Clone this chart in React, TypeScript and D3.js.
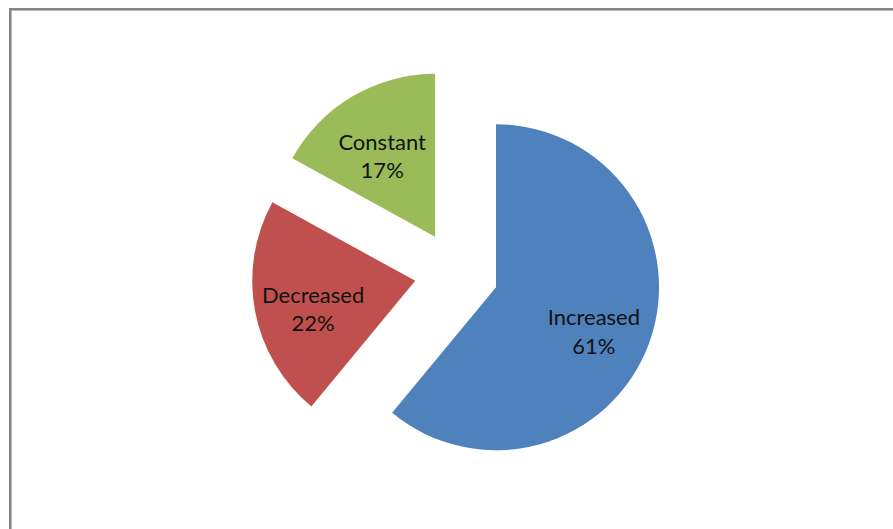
import React from "react";
import * as d3 from "d3";

const categories = ["Increased", "Decreased", "Constant"];
const values = [61, 22, 17];
const colors = ["#4F81BD", "#C0504D", "#9BBB59"];

const W = 893;
const H = 529;
const CX = 456.5;
const CY = 273;
const R = 163;
const EXPLODE = 42;
const LABEL_R = 104;

export default function App() {
  const pie = d3.pie<number>().sort(null).value((d) => d);
  const arcs = pie(values);
  const arc = d3.arc<d3.PieArcDatum<number>>().innerRadius(0).outerRadius(R);
  const labelArc = d3.arc<d3.PieArcDatum<number>>().innerRadius(LABEL_R).outerRadius(LABEL_R);
  const total = d3.sum(values);

  return (
    <svg width={W} height={H} style={{ position: "absolute", left: 0, top: 0, background: "#fff" }}>
      <rect x={0} y={0} width={W} height={H} fill="#fff" />
      <rect x={10} y={9} width={W + 20} height={H + 20} fill="none" stroke="#868686" strokeWidth={2} />
      <rect x={11.5} y={10.5} width={W + 20} height={H + 20} fill="none" stroke="#b8b8b8" strokeWidth={1} />
      <g transform={`translate(${CX},${CY})`}>
        {arcs.map((a, i) => {
          const mid = (a.startAngle + a.endAngle) / 2;
          const dx = Math.sin(mid) * EXPLODE;
          const dy = -Math.cos(mid) * EXPLODE;
          const [lx, ly] = labelArc.centroid(a);
          const pct = Math.round((values[i] / total) * 100);
          return (
            <g key={categories[i]} transform={`translate(${dx},${dy})`}>
              <path d={arc(a) || ""} fill={colors[i]} />
              <text
                x={lx}
                y={ly}
                textAnchor="middle"
                fontFamily="Lato, 'Open Sans', sans-serif"
                fontSize={22}
                fill="#111"
              >
                <tspan x={lx} dy={2.7}>{categories[i]}</tspan>
                <tspan x={lx} dy={28.4}>{pct}%</tspan>
              </text>
            </g>
          );
        })}
      </g>
    </svg>
  );
}
